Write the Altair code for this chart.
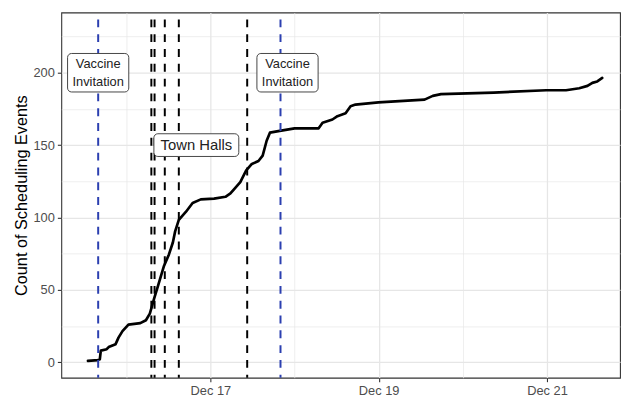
import altair as alt
import pandas as pd

# ---- data ----
curve_time = [
    "2020-12-15T13:05", "2020-12-15T15:54", "2020-12-15T16:28", "2020-12-15T16:45",
    "2020-12-15T18:26", "2020-12-15T19:00", "2020-12-15T20:58", "2020-12-15T21:48",
    "2020-12-15T22:56", "2020-12-16T00:38", "2020-12-16T04:01", "2020-12-16T05:37",
    "2020-12-16T06:44", "2020-12-16T07:57", "2020-12-16T09:05", "2020-12-16T10:46",
    "2020-12-16T12:11", "2020-12-16T13:18", "2020-12-16T13:57", "2020-12-16T15:00",
    "2020-12-16T17:03", "2020-12-16T18:56", "2020-12-16T21:16", "2020-12-17T01:03",
    "2020-12-17T04:18", "2020-12-17T05:43", "2020-12-17T06:40", "2020-12-17T08:32",
    "2020-12-17T10:13", "2020-12-17T11:50", "2020-12-17T13:43", "2020-12-17T14:55",
    "2020-12-17T16:03", "2020-12-17T16:59", "2020-12-17T19:47", "2020-12-18T00:01",
    "2020-12-18T06:53", "2020-12-18T08:00", "2020-12-18T10:49", "2020-12-18T12:14",
    "2020-12-18T14:34", "2020-12-18T15:59", "2020-12-18T17:23", "2020-12-18T23:56",
    "2020-12-19T13:05", "2020-12-19T15:26", "2020-12-19T17:47", "2020-12-20T08:48",
    "2020-12-20T23:48", "2020-12-21T05:26", "2020-12-21T09:12", "2020-12-21T11:33",
    "2020-12-21T12:57", "2020-12-21T14:21", "2020-12-21T15:46",
]
curve_count = [
    1, 1.5, 2, 8, 9, 10.5, 12.5, 17, 21.5,
    26, 27, 29, 33.6, 44, 53, 66.5, 74.5, 82.7, 90.4, 98.4, 104, 110, 112.5,
    113, 114.3, 116.6, 119.3, 124.5, 132.5, 137, 139, 142.7, 153, 158.6, 159.8,
    161.6, 161.6, 165.4, 167.7, 170, 172, 176.8, 178, 179.5,
    181.4, 184, 185.2,
    186.3, 187.9,
    187.9, 189.3, 190.9, 193, 194, 196.4,
]

vaccine_times = ["2020-12-15T16:00", "2020-12-17T20:00"]
townhall_times = ["2020-12-16T07:10", "2020-12-16T08:05", "2020-12-16T11:00",
                  "2020-12-16T15:00", "2020-12-17T10:30"]

vaccine_label_x = ["2020-12-15T16:00", "2020-12-17T22:00"]
vaccine_label_y = [200, 200]
vaccine_label_text = ["Vaccine\nInvitation", "Vaccine\nInvitation"]

townhall_label_x = ["2020-12-16T20:00"]
townhall_label_y = [150]
townhall_label_text = ["Town Halls"]

x_domain = ["2020-12-15T05:29", "2020-12-21T20:50"]
y_domain = [-10.7, 241.6]
x_tick_days = [16, 17, 18, 19, 20, 21]
y_tick_values = [0, 25, 50, 75, 100, 125, 150, 175, 200, 225]
y_title = "Count of Scheduling Events"

# ---- tables ----
def utc(s):
    return s + ":00Z"

curve_df = pd.DataFrame({"t": [utc(s) for s in curve_time], "count": curve_count})
vacc_df = pd.DataFrame({"t": [utc(s) for s in vaccine_times]})
town_df = pd.DataFrame({"t": [utc(s) for s in townhall_times]})
vlab_df = pd.DataFrame({"t": [utc(s) for s in vaccine_label_x],
                        "y": vaccine_label_y, "label": vaccine_label_text})
tlab_df = pd.DataFrame({"t": [utc(s) for s in townhall_label_x],
                        "y": townhall_label_y, "label": townhall_label_text})

FONT = "Liberation Sans"

x_scale = alt.Scale(type="utc", domain=[utc(s) for s in x_domain], nice=False)
y_scale = alt.Scale(domain=y_domain, nice=False, zero=False)

x_axis = alt.Axis(
    title=None,
    values=[alt.DateTime(year=2020, month=12, date=d, utc=True) for d in x_tick_days],
    labelExpr="utcdate(datum.value) % 2 == 1 ? utcFormat(datum.value, '%b %d') : ''",
    labelFont=FONT, labelFontSize=13, labelColor="#4d4d4d", labelPadding=3,
    labelFlush=False, labelOverlap=False, labelBound=False,
    domain=False,
    ticks=True, tickSize=4, tickColor="#333333", tickWidth=1.1,
    tickOpacity={"condition": {"test": "utcdate(datum.value) % 2 == 1", "value": 1}, "value": 0},
    grid=True, gridColor="#e6e6e6",
    gridWidth={"condition": {"test": "utcdate(datum.value) % 2 == 1", "value": 1.3}, "value": 0.7},
)
y_axis = alt.Axis(
    title=y_title, titleFont=FONT, titleFontSize=16.5, titleFontWeight="normal",
    titleColor="#000000", titlePadding=4,
    values=y_tick_values,
    labelExpr="datum.value % 50 == 0 ? datum.label : ''",
    labelFont=FONT, labelFontSize=13, labelColor="#4d4d4d", labelPadding=3,
    labelOverlap=False, labelFlush=False, labelBound=False,
    domain=False,
    ticks=True, tickSize=4, tickColor="#333333", tickWidth=1.1,
    tickOpacity={"condition": {"test": "datum.value % 50 == 0", "value": 1}, "value": 0},
    grid=True, gridColor="#e6e6e6",
    gridWidth={"condition": {"test": "datum.value % 50 == 0", "value": 1.3}, "value": 0.7},
)

vacc_rules = alt.Chart(vacc_df).mark_rule(
    color="#2b3fb0", strokeWidth=2, strokeDash=[8, 7], strokeDashOffset=8
).encode(x=alt.X("t:T", scale=x_scale, axis=x_axis))

town_rules = alt.Chart(town_df).mark_rule(
    color="#000000", strokeWidth=2, strokeDash=[8, 7], strokeDashOffset=8
).encode(x=alt.X("t:T", scale=x_scale, axis=x_axis))

line = alt.Chart(curve_df).mark_line(
    color="#000000", strokeWidth=2.7, strokeJoin="round", strokeCap="round"
).encode(
    x=alt.X("t:T", scale=x_scale, axis=x_axis),
    y=alt.Y("count:Q", scale=y_scale, axis=y_axis),
)

vbox = alt.Chart(vlab_df).mark_rect(
    width=62, height=39, fill="white", stroke="#444444", strokeWidth=1, cornerRadius=4
).encode(x=alt.X("t:T", scale=x_scale, axis=x_axis), y=alt.Y("y:Q", scale=y_scale, axis=y_axis))
vtext = alt.Chart(vlab_df).mark_text(
    font=FONT, fontSize=13, color="#222222", lineBreak="\n", lineHeight=18,
    align="center", baseline="middle", dy=-9
).encode(x=alt.X("t:T", scale=x_scale, axis=x_axis), y=alt.Y("y:Q", scale=y_scale, axis=y_axis),
         text="label:N")

tbox = alt.Chart(tlab_df).mark_rect(
    width=86, height=23, fill="white", stroke="#444444", strokeWidth=1, cornerRadius=4
).encode(x=alt.X("t:T", scale=x_scale, axis=x_axis), y=alt.Y("y:Q", scale=y_scale, axis=y_axis))
ttext = alt.Chart(tlab_df).mark_text(
    font=FONT, fontSize=15, color="#222222", align="center", baseline="middle"
).encode(x=alt.X("t:T", scale=x_scale, axis=x_axis), y=alt.Y("y:Q", scale=y_scale, axis=y_axis),
         text="label:N")

chart = alt.layer(
    line, vacc_rules, town_rules, vbox, vtext, tbox, ttext
).properties(
    width=566, height=370,
    autosize=alt.AutoSizeParams(type="none"),
    padding={"left": 54, "top": 2, "right": 1, "bottom": 21},
    background="white",
).configure_view(
    stroke="#333333", strokeWidth=1.1
)

chart.save("out.html", embed_options={"renderer": "svg", "actions": False})
